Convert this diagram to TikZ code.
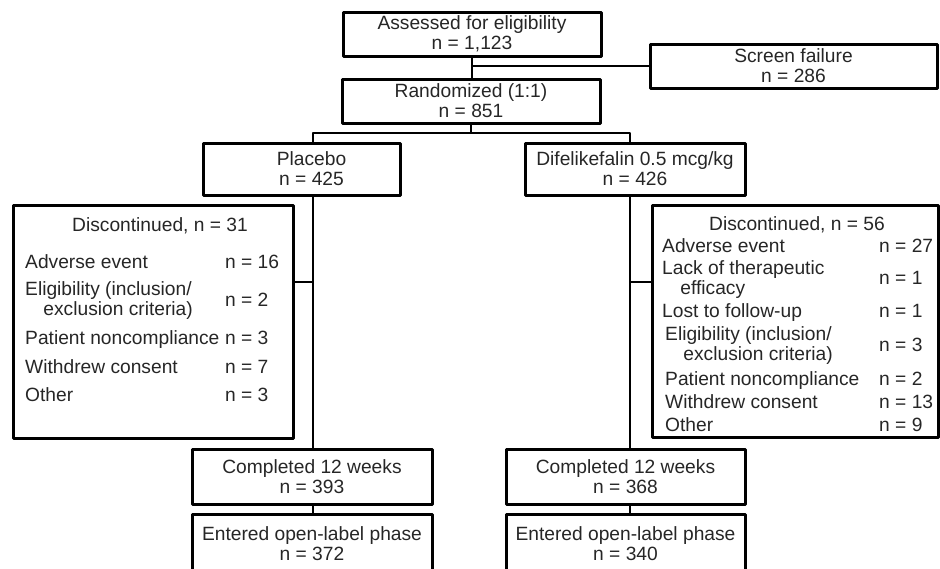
\documentclass[tikz,border=0pt]{standalone}
\usepackage{fontspec}
\setmainfont{Liberation Sans}

\begin{document}
\begin{tikzpicture}[x=1pt,y=-1pt, font=\fontsize{19.2}{20}\selectfont, line join=round,
	box/.style={draw, line width=3pt, align=center, inner sep=0pt, text=black!85,
		execute at begin node={\rule{0pt}{21pt}}},
	link/.style={line width=2.3pt},
	item/.style={anchor=west, align=left, inner sep=0pt, text=black!85, yshift=-2pt,
		execute at begin node=\strut, execute at end node=\strut},
	count/.style={anchor=west, inner sep=0pt, text=black!85, yshift=-2pt,
		execute at begin node=\strut}]
	\def\xL{313} \def\xR{630} % the two arms
	\def\yS{133} % split below randomization
	
	\useasboundingbox (0,0) rectangle (940,568);
	\clip (0,0) rectangle (940,568);
	
	\node[box, minimum width=258pt, minimum height=44pt] (assess) at (472,34) {Assessed for eligibility\\n = 1,123};
	\node[box, minimum width=287pt, minimum height=44pt] (screen) at (793.5,66) {Screen failure\\n = 286};
	\node[box, minimum width=258pt, minimum height=44pt] (random) at (471,101) {Randomized (1:1)\\n = 851};
	\node[box, minimum width=197pt, minimum height=52pt] (placebo) at (301.5,169) {\hspace*{20pt}Placebo\\\hspace*{20pt}n = 425};
	\node[box, minimum width=220pt, minimum height=52pt] (dife) at (635,169) {Difelikefalin 0.5 mcg/kg\\n = 426};
	\node[draw, line width=3pt, minimum width=280pt, minimum height=233pt] (discL) at (153,321.5) {};
	\node[draw, line width=3pt, minimum width=286pt, minimum height=232pt] (discR) at (795,321) {};
	\node[box, minimum width=240pt, minimum height=55pt] (compL) at (312,476.5) {Completed 12 weeks\\n = 393};
	\node[box, minimum width=239pt, minimum height=55pt] (compR) at (625.5,476.5) {Completed 12 weeks\\n = 368};
	\node[box, minimum width=240pt, minimum height=60pt] (enterL) at (312,544) {Entered open-label phase\\n = 372};
	\node[box, minimum width=239pt, minimum height=60pt] (enterR) at (625.5,544) {Entered open-label phase\\n = 340};
	
	% placebo discontinuations
	\node[text=black!85] (headL) at (160,226) {Discontinued, n = 31};
	\foreach \y/\lab/\val [count=\k] in {262/Adverse event/16,
		300/{Eligibility (inclusion/\\\hspace*{0.95em}exclusion criteria)}/2,
		338/Patient noncompliance/3, 367/Withdrew consent/7, 395/Other/3}{
		\node[item] (labL\k) at (25,\y) {\lab};
		\node[count] (valL\k) at (225,\y) {n = \val};
	}
	
	% difelikefalin discontinuations
	\node[text=black!85] (headR) at (797,225) {Discontinued, n = 56};
	\foreach \x/\y/\lab/\val [count=\k] in {662/246/Adverse event/27,
		662/278.5/{Lack of therapeutic\\\hspace*{0.95em}efficacy}/1,
		662/311/Lost to follow-up/1,
		665/345/{Eligibility (inclusion/\\\hspace*{0.95em}exclusion criteria)}/3,
		665/379/Patient noncompliance/2, 665/402/Withdrew consent/13, 665/425/Other/9}{
		\node[item] (labR\k) at (\x,\y) {\lab};
		\node[count] (valR\k) at (879,\y) {n = \val};
	}
	
	\coordinate (splitL) at (\xL,\yS);
	\coordinate (splitR) at (\xR,\yS);
	\coordinate (legL) at (\xL,282);
	\coordinate (legR) at (\xR,282);
	
	\draw[link] (assess.south) -- (assess.south |- random.north);
	\draw[link] (assess.south |- screen.west) -- (screen.west);
	\draw[link] (random.south) -- (random.south |- splitL);
	\draw[link] (splitL |- placebo.north) -- (splitL) -- (splitR) -- (splitR |- dife.north);
	\draw[link] (splitL |- placebo.south) -- (splitL |- compL.north);
	\draw[link] (splitR |- dife.south) -- (splitR |- compR.north);
	\draw[link] (legL) -- (legL -| discL.east);
	\draw[link] (legR) -- (legR -| discR.west);
	\draw[link] (splitL |- compL.south) -- (splitL |- enterL.north);
	\draw[link] (splitR |- compR.south) -- (splitR |- enterR.north);
	
\end{tikzpicture}
\end{document}
